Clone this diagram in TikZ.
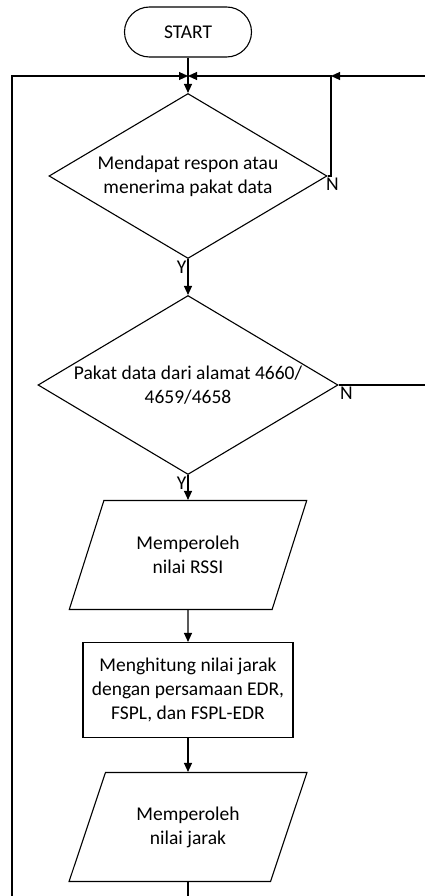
\documentclass[tikz,border=0pt]{standalone}
\usepackage{fontspec}
\setmainfont{Carlito}
\usetikzlibrary{shapes.geometric,arrows.meta}

\begin{document}
\begin{tikzpicture}[x=1pt,y=-1pt,line width=1.1pt,>={Triangle[length=9pt,width=8pt]},
  every node/.style={font=\fontsize{19.5}{24}\selectfont},
  terminal/.style={draw,rectangle,rounded corners=25pt,minimum width=127pt,minimum height=50pt},
  decision/.style={draw,diamond,inner sep=0pt},
  io/.style={draw,trapezium,trapezium left angle=63,trapezium right angle=117,
    trapezium stretches=true,minimum width=238pt,minimum height=109pt,align=center},
  process/.style={draw,rectangle,minimum width=210pt,minimum height=95pt,align=center},
  yn/.style={inner sep=1pt}]
  \useasboundingbox (0,0) rectangle (425,896);
  % shapes
  \node[terminal] (start) at (188,32) {START};
  \node[decision,minimum width=278pt,minimum height=165pt,
    label={[align=center]center:Mendapat respon atau\\menerima pakat data}] (dec1) at (188,176) {};
  \node[decision,minimum width=300pt,minimum height=179pt,
    label={[align=center]center:Pakat data dari alamat 4660/\\4659/4658}] (dec2) at (188,385) {};
  \node[io] (rssi) at (188,555) {Memperoleh\\nilai RSSI};
  \node[process] (hitung) at (188,690) {Menghitung nilai jarak\\dengan persamaan EDR,\\FSPL, dan FSPL-EDR};
  \node[io] (jarak) at (188,827) {Memperoleh\\nilai jarak};
  % labels
  \node[yn,anchor=north west] (n1) at ([xshift=-3pt]dec1.east) {N};
  \node[yn,anchor=north east] (y1) at (dec1.south) {Y};
  \node[yn,anchor=north west] (n2) at (dec2.east) {N};
  \node[yn,anchor=north east] (y2) at (dec2.south) {Y};
  % helper points
  \coordinate (join) at (188,76);
  \coordinate (nturn) at (331,76);
  \coordinate (rt) at (425,76);
  \coordinate (rt2) at (425,385);
  \coordinate (lb) at (12,896);
  \coordinate (bot) at (188,896);
  % connectors
  \draw (start) -- (join);
  \draw[->] (join) -- (dec1);
  \draw[->] (lb) |- (join);
  \draw[->] (rt) -- (nturn);
  \draw[->] (dec1.east) -| (nturn) -- (join);
  \draw[->] (dec1) -- (dec2);
  \draw (dec2.east) -- (rt2);
  \draw[->] (dec2) -- (rssi);
  \draw[->] (rssi) -- (hitung);
  \draw[->] (hitung) -- (jarak);
  \draw (jarak) -- (bot);
\end{tikzpicture}
\end{document}
